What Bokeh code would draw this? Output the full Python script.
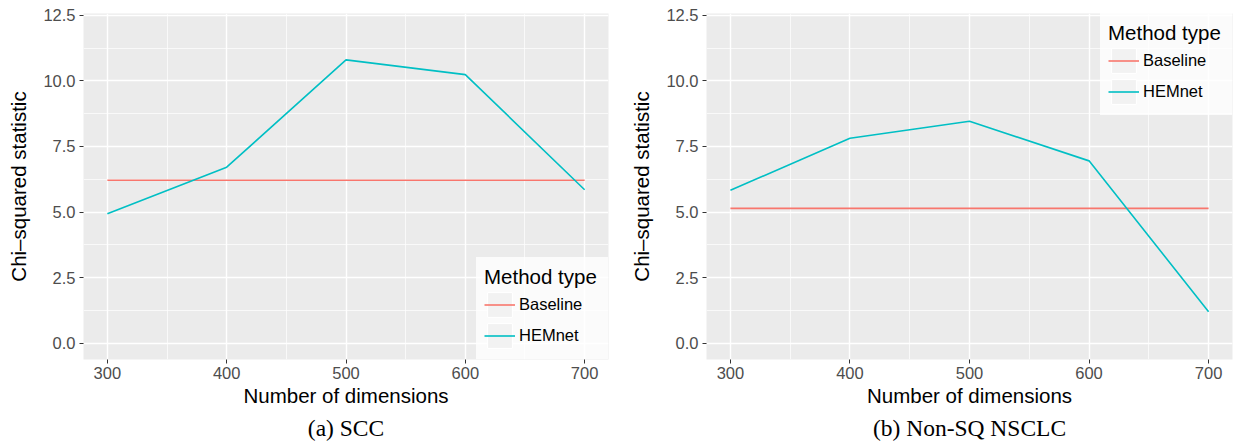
from bokeh.plotting import figure
from bokeh.models import (Range1d, FixedTicker, Legend, LegendItem, Title,
                          CustomJSTickFormatter)
from bokeh.layouts import row
from bokeh.embed import file_html
from bokeh.resources import INLINE

# ---- data ----
dims = [300, 400, 500, 600, 700]
scc_hemnet = [4.93, 6.71, 10.80, 10.24, 5.85]
scc_baseline = [6.21, 6.21, 6.21, 6.21, 6.21]
nsclc_hemnet = [5.83, 7.81, 8.46, 6.95, 1.20]
nsclc_baseline = [5.14, 5.14, 5.14, 5.14, 5.14]
x_ticks = [300, 400, 500, 600, 700]
x_minor = [350, 450, 550, 650]
y_ticks = [0.0, 2.5, 5.0, 7.5, 10.0, 12.5]
y_minor = [1.25, 3.75, 6.25, 8.75, 11.25]
series_names = ["Baseline", "HEMnet"]
series_colors = ["#F8766D", "#00BFC4"]
captions = ["(a) SCC", "(b) Non-SQ NSCLC"]

SANS = "Liberation Sans"
SERIF = "Liberation Serif"


def make_panel(hemnet, baseline, caption, legend_loc, border_left, border_right):
    p = figure(width=618, height=446, output_backend="svg", toolbar_location=None,
               x_range=Range1d(280, 720), y_range=Range1d(-0.625, 12.57),
               min_border_left=border_left, min_border_right=border_right,
               min_border_top=13, min_border_bottom=87)
    p.background_fill_color = "#EBEBEB"
    p.border_fill_color = "white"
    p.outline_line_color = None

    p.xaxis.ticker = FixedTicker(ticks=x_ticks, minor_ticks=x_minor)
    p.yaxis.ticker = FixedTicker(ticks=y_ticks, minor_ticks=y_minor)
    p.yaxis.formatter = CustomJSTickFormatter(code="return tick.toFixed(1);")

    for ax in (p.xaxis[0], p.yaxis[0]):
        ax.axis_line_color = None
        ax.major_tick_line_color = "#333333"
        ax.major_tick_out = 4
        ax.major_tick_in = 0
        ax.minor_tick_line_color = None
        ax.major_label_text_font = SANS
        ax.major_label_text_font_size = "16.5px"
        ax.major_label_text_color = "#4D4D4D"
        ax.axis_label_text_font = SANS
        ax.axis_label_text_font_size = "20.5px"
        ax.axis_label_text_font_style = "normal"
        ax.axis_label_text_color = "black"
    p.xaxis.axis_label = "Number of dimensions"
    p.yaxis.axis_label = "Chi\u2013squared statistic"
    p.xaxis.major_label_standoff = 3
    p.xaxis.axis_label_standoff = 2
    p.yaxis.major_label_standoff = 4
    p.yaxis.axis_label_standoff = 10

    for g in (p.xgrid[0], p.ygrid[0]):
        g.grid_line_color = "white"
        g.grid_line_width = 1.4
        g.minor_grid_line_color = "white"
        g.minor_grid_line_width = 0.7

    # legend key box (hidden on the plot, drawn only as legend key background)
    key_box = p.rect(x=dims[:1], y=baseline[:1], width=1, height=1,
                     fill_color="#F2F2F2", line_color="white", line_width=1,
                     visible=False)

    r_base = p.line(dims, baseline, line_color=series_colors[0], line_width=1.6)
    r_hem = p.line(dims, hemnet, line_color=series_colors[1], line_width=1.6)

    legend = Legend(items=[LegendItem(label=series_names[0], renderers=[key_box, r_base]),
                           LegendItem(label=series_names[1], renderers=[key_box, r_hem])],
                    location=legend_loc, title="Method type")
    legend.margin = 0
    legend.padding = 8
    legend.spacing = 0
    legend.glyph_width = 31
    legend.glyph_height = 31
    legend.label_height = 31
    legend.label_width = 81
    legend.label_standoff = 4
    legend.title_standoff = 0
    legend.background_fill_color = "white"
    legend.background_fill_alpha = 0.8
    legend.border_line_color = "white"
    legend.border_line_alpha = 0.0
    legend.title_text_font = SANS
    legend.title_text_font_size = "20.5px"
    legend.title_text_font_style = "normal"
    legend.title_text_color = "black"
    legend.label_text_font = SANS
    legend.label_text_font_size = "16.5px"
    legend.label_text_color = "black"
    p.add_layout(legend)

    t = Title(text=caption, align="center", text_font=SERIF, text_font_size="23.5px",
              text_font_style="normal", text_color="black", standoff=7)
    p.add_layout(t, "below")
    return p


p1 = make_panel(scc_hemnet, scc_baseline, captions[0], "bottom_right", 83, 10)
p2 = make_panel(nsclc_hemnet, nsclc_baseline, captions[1], "top_right", 88, 4)
p = row(p1, p2)

open("out.html", "w").write(file_html(p, INLINE))
